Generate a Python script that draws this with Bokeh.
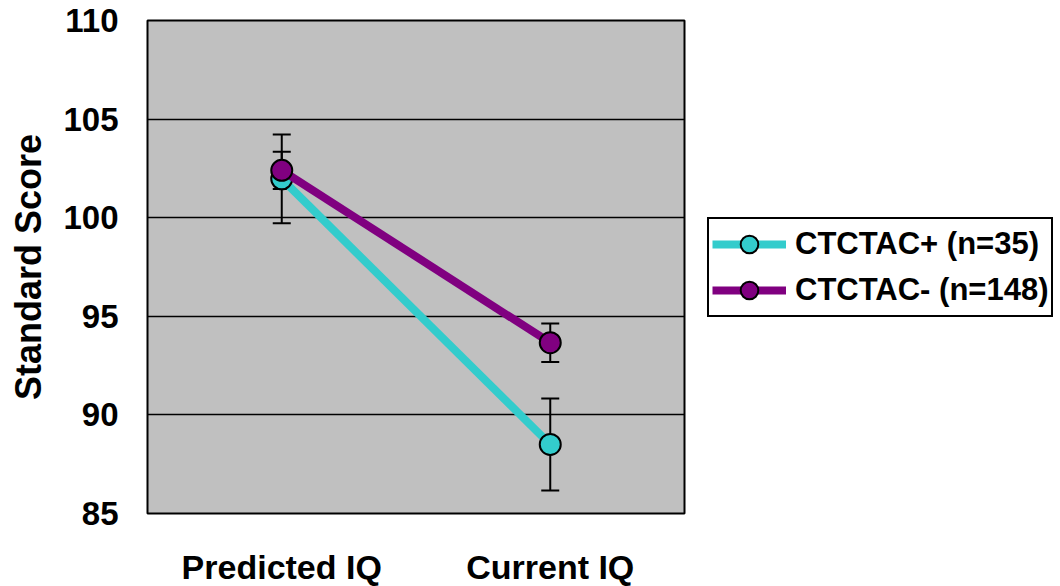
from bokeh.plotting import figure
from bokeh.models import ColumnDataSource, Whisker, TeeHead, Legend, LegendItem, FixedTicker, Range1d
from bokeh.embed import file_html
from bokeh.resources import INLINE

categories = ["Predicted IQ", "Current IQ"]
cat_x = [1.0, 3.0]
plus_mean = [101.97, 88.5]
plus_err = [2.25, 2.33]
minus_mean = [102.4, 93.66]
minus_err = [0.94, 0.98]
y_ticks = [85, 90, 95, 100, 105, 110]

FONT = "Liberation Sans"
CYAN = "#33CCCC"
PURPLE = "#800080"

p = figure(output_backend="svg", toolbar_location=None,
           x_range=Range1d(0, 4), y_range=Range1d(85, 110),
           frame_width=537, frame_height=493,
           min_border_left=147, min_border_top=20, min_border_right=20, min_border_bottom=72)
p.background_fill_color = "#C0C0C0"
p.border_fill_color = "white"
p.outline_line_color = "black"
p.outline_line_width = 2

p.xgrid.visible = False
p.ygrid.grid_line_color = "black"
p.ygrid.grid_line_width = 1.5
p.yaxis.ticker = FixedTicker(ticks=y_ticks)
p.xaxis.ticker = FixedTicker(ticks=cat_x)
p.xaxis.major_label_overrides = {t: c for t, c in zip(cat_x, categories)}

for ax in (p.xaxis[0], p.yaxis[0]):
    ax.axis_line_color = None
    ax.major_tick_line_color = None
    ax.minor_tick_line_color = None
    ax.major_label_text_font = FONT
    ax.major_label_text_font_style = "bold"
    ax.major_label_text_color = "black"

p.yaxis.major_label_text_font_size = "33px"
p.xaxis.major_label_text_font_size = "34px"
p.xaxis.major_label_standoff = 28
p.yaxis.major_label_standoff = 23
p.yaxis.axis_label = "Standard Score"
p.yaxis.axis_label_text_font = FONT
p.yaxis.axis_label_text_font_style = "bold"
p.yaxis.axis_label_text_font_size = "36px"
p.yaxis.axis_label_text_color = "black"
p.yaxis.axis_label_standoff = 11

def make_source(mean, err):
    return ColumnDataSource(dict(x=cat_x, y=mean,
                                 upper=[m + e for m, e in zip(mean, err)],
                                 lower=[m - e for m, e in zip(mean, err)]))

src_plus = make_source(plus_mean, plus_err)
src_minus = make_source(minus_mean, minus_err)

for src in (src_plus, src_minus):
    p.add_layout(Whisker(base="x", upper="upper", lower="lower", source=src,
                         line_color="black", line_width=2,
                         upper_head=TeeHead(size=18, line_width=2, line_color="black"),
                         lower_head=TeeHead(size=18, line_width=2, line_color="black")))

l1 = p.line("x", "y", source=src_plus, line_color=CYAN, line_width=8)
m1 = p.scatter("x", "y", source=src_plus, marker="circle", size=21,
               fill_color=CYAN, line_color="black", line_width=2)
l2 = p.line("x", "y", source=src_minus, line_color=PURPLE, line_width=8)
m2 = p.scatter("x", "y", source=src_minus, marker="circle", size=21,
               fill_color=PURPLE, line_color="black", line_width=2)

legend = Legend(items=[LegendItem(label="CTCTAC+ (n=35)", renderers=[l1, m1]),
                       LegendItem(label="CTCTAC- (n=148)", renderers=[l2, m2])],
                location=(23, 196), orientation="vertical")
legend.label_text_font = FONT
legend.label_text_font_style = "bold"
legend.label_text_font_size = "31px"
legend.label_text_color = "black"
legend.border_line_color = "black"
legend.border_line_width = 2
legend.border_line_alpha = 1
legend.background_fill_color = "white"
legend.background_fill_alpha = 1
legend.glyph_width = 74
legend.glyph_height = 44
legend.label_height = 44
legend.spacing = 2
legend.padding = 3
legend.margin = 0
legend.label_standoff = 9
p.add_layout(legend, "right")

open("out.html", "w").write(file_html(p, INLINE))
